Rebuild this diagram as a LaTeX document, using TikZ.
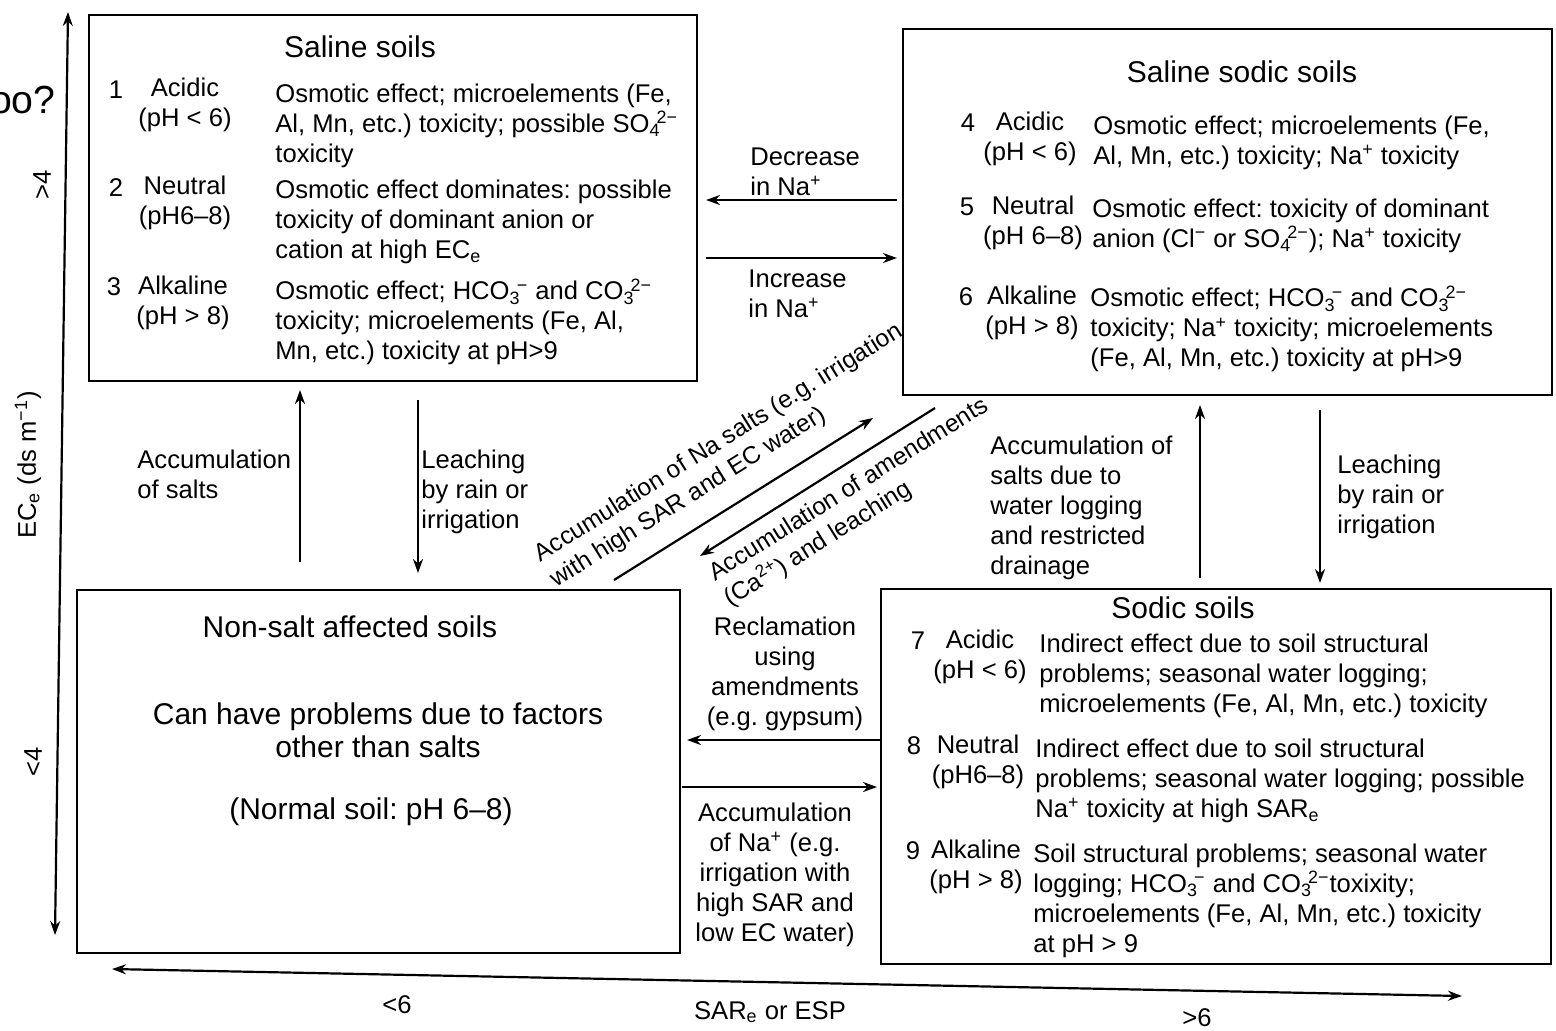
\documentclass[tikz,border=0pt]{standalone}
\usepackage{fontspec}
\setmainfont{Liberation Sans}
\usetikzlibrary{arrows.meta,fit}
\newcommand{\ionsub}[2]{\textsubscript{#1}\kern-0.15em\textsuperscript{#2}}
\frenchspacing
\begin{document}
\begin{tikzpicture}[x=0.5pt,y=-0.5pt,
  box/.style={draw, line width=1pt, inner sep=0pt, outer sep=0pt},
  ttl/.style={font=\fontsize{15}{18}\selectfont, inner sep=0pt},
  txt/.style={font=\fontsize{12.8}{15}\selectfont, inner sep=0pt},
  dtxt/.style={font=\fontsize{12.3}{15}\selectfont, inner sep=0pt, align=left, rotate=32},
  lbl/.style={txt, align=center},
  dsc/.style={txt, align=left, anchor=west},
  big/.style={font=\fontsize{15}{16.5}\selectfont, inner sep=0pt, align=center},
  arr/.style={-{Stealth[length=7pt,width=5pt]}, line width=1.1pt},
  darr/.style={{Stealth[length=7pt,width=5pt]}-{Stealth[length=7pt,width=5pt]}, line width=1.1pt}]
\useasboundingbox (0,0) rectangle (1556,1030);
\fill[white] (0,0) rectangle (1556,1030);

% stray slide text
\node[anchor=east, inner sep=0pt, font=\fontsize{19.6}{22}\selectfont] (stray) at (56,100) {oo?};

% boxes
\node[box, fit={(89,15) (697,381)}] (saline) {};
\node[box, fit={(903,29) (1552,395)}] (salsod) {};
\node[box, fit={(77,590) (680,953)}] (nonsalt) {};
\node[box, fit={(881,589) (1551,964)}] (sodic) {};

% axes
\coordinate (ytop) at (68,12);
\coordinate (ybot) at (55,935);
\draw[darr] (ybot) -- (ytop);
\coordinate (xl) at (112,969);
\coordinate (xr) at (1462,996);
\draw[darr] (xl) -- (xr);
\node[txt, rotate=90] (ylab) at (28,465) {EC\textsubscript{e} (ds m\textsuperscript{−1})};
\node[txt, rotate=90] (yhi) at (42,185) {>4};
\node[txt, rotate=90] (ylo) at (33,762) {<4};
\node[txt] (xlo) at (397,1005) {<6};
\node[txt] (xlab) at (770,1012) {SAR\textsubscript{e} or ESP};
\node[txt] (xhi) at (1197,1018) {>6};

% Saline soils
\node[ttl] (t1) at (360,47) {Saline soils};
\node[txt] (n1) at (116,90) {1};
\node[lbl] (l1) at (185,105) {Acidic\\(pH < 6)};
\node[dsc] (d1) at (275,126) {Osmotic effect; microelements (Fe,\\Al, Mn, etc.) toxicity; possible SO\ionsub{4}{2−}\\toxicity};
\node[txt] (n2) at (116,188) {2};
\node[lbl] (l2) at (185,203) {Neutral\\(pH6–8)};
\node[dsc] (d2) at (275,222) {Osmotic effect dominates: possible\\toxicity of dominant anion or\\cation at high EC\textsubscript{e}};
\node[txt] (n3) at (114,287) {3};
\node[lbl] (l3) at (183,303) {Alkaline\\(pH > 8)};
\node[dsc] (d3) at (275,322) {Osmotic effect; HCO\ionsub{3}{−} and CO\ionsub{3}{2−}\\toxicity; microelements (Fe, Al,\\Mn, etc.) toxicity at pH>9};

% Saline sodic soils
\node[ttl] (t2) at (1242,72) {Saline sodic soils};
\node[txt] (n4) at (968,123) {4};
\node[lbl] (l4) at (1030,139) {Acidic\\(pH < 6)};
\node[dsc] (d4) at (1093,143) {Osmotic effect; microelements (Fe,\\Al, Mn, etc.) toxicity; Na\textsuperscript{+} toxicity};
\node[txt] (n5) at (967,207) {5};
\node[lbl] (l5) at (1033,223) {Neutral\\(pH 6–8)};
\node[dsc] (d5) at (1092,226) {Osmotic effect: toxicity of dominant\\anion (Cl\textsuperscript{−} or SO\ionsub{4}{2−}); Na\textsuperscript{+} toxicity};
\node[txt] (n6) at (966,297) {6};
\node[lbl] (l6) at (1032,313) {Alkaline\\(pH > 8)};
\node[dsc] (d6) at (1090,329) {Osmotic effect; HCO\ionsub{3}{−} and CO\ionsub{3}{2−}\\toxicity; Na\textsuperscript{+} toxicity; microelements\\(Fe, Al, Mn, etc.) toxicity at pH>9};

% Non-salt affected soils
\node[big] (t3) at (350,627) {Non-salt affected soils};
\node[big] (b3) at (378,730) {Can have problems due to factors\\other than salts};
\node[big] (c3) at (371,812) {(Normal soil: pH 6–8)};

% Sodic soils
\node[ttl] (t4) at (1183,608) {Sodic soils};
\node[txt] (n7) at (918,641) {7};
\node[lbl] (l7) at (980,657) {Acidic\\(pH < 6)};
\node[dsc] (d7) at (1039,676) {Indirect effect due to soil structural\\problems; seasonal water logging;\\microelements (Fe, Al, Mn, etc.) toxicity};
\node[txt] (n8) at (914,746) {8};
\node[lbl] (l8) at (978,762) {Neutral\\(pH6–8)};
\node[dsc] (d8) at (1035,781) {Indirect effect due to soil structural\\problems; seasonal water logging; possible\\Na\textsuperscript{+} toxicity at high SAR\textsubscript{e}};
\node[txt] (n9) at (913,851) {9};
\node[lbl] (l9) at (976,867) {Alkaline\\(pH > 8)};
\node[dsc] (d9) at (1033,901) {Soil structural problems; seasonal water\\logging; HCO\ionsub{3}{−} and CO\ionsub{3}{2−}toxixity;\\microelements (Fe, Al, Mn, etc.) toxicity\\at pH > 9};

% horizontal arrows top
\coordinate (decA) at (897,200);
\coordinate (decB) at (706,200);
\draw[arr] (decA) -- (decB);
\node[dsc] (decL) at (750,172) {Decrease\\in Na\textsuperscript{+}};
\coordinate (incA) at (706,258);
\coordinate (incB) at (897,258);
\draw[arr] (incA) -- (incB);
\node[dsc] (incL) at (748,294) {Increase\\in Na\textsuperscript{+}};

% vertical arrows left
\coordinate (upLa) at (300,562);
\coordinate (upLb) at (300,390);
\draw[arr] (upLa) -- (upLb);
\node[dsc] (upLl) at (137,474) {Accumulation\\of salts};
\coordinate (dnLa) at (418,400);
\coordinate (dnLb) at (418,573);
\draw[arr] (dnLa) -- (dnLb);
\node[dsc] (dnLl) at (421,492) {Leaching\\by rain or\\irrigation};

% vertical arrows right
\coordinate (upRa) at (1200,578);
\coordinate (upRb) at (1200,405);
\draw[arr] (upRa) -- (upRb);
\node[dsc] (upRl) at (990,508) {Accumulation of\\salts due to\\water logging\\and restricted\\drainage};
\coordinate (dnRa) at (1320,410);
\coordinate (dnRb) at (1320,583);
\draw[arr] (dnRa) -- (dnRb);
\node[dsc] (dnRl) at (1337,497) {Leaching\\by rain or\\irrigation};

% diagonal arrows
\coordinate (dg1a) at (614,580);
\coordinate (dg1b) at (873,418);
\draw[arr] (dg1a) -- (dg1b);
\node[dtxt] (dg1l) at (727,456) {Accumulation of Na salts (e.g. irrigation\\with high SAR and EC water)};
\coordinate (dg2a) at (935,408);
\coordinate (dg2b) at (700,556);
\draw[arr] (dg2a) -- (dg2b);
\node[dtxt] (dg2l) at (857,503) {Accumulation of amendments\\(Ca\textsuperscript{2+}) and leaching};

% bottom horizontal arrows
\coordinate (recA) at (880,740);
\coordinate (recB) at (687,740);
\draw[arr] (recA) -- (recB);
\node[lbl] (recL) at (785,674) {Reclamation\\using\\amendments\\(e.g. gypsum)};
\coordinate (acA) at (682,787);
\coordinate (acB) at (877,787);
\draw[arr] (acA) -- (acB);
\node[lbl] (acL) at (775,875) {Accumulation\\of Na\textsuperscript{+} (e.g.\\irrigation with\\high SAR and\\low EC water)};
\end{tikzpicture}
\end{document}
